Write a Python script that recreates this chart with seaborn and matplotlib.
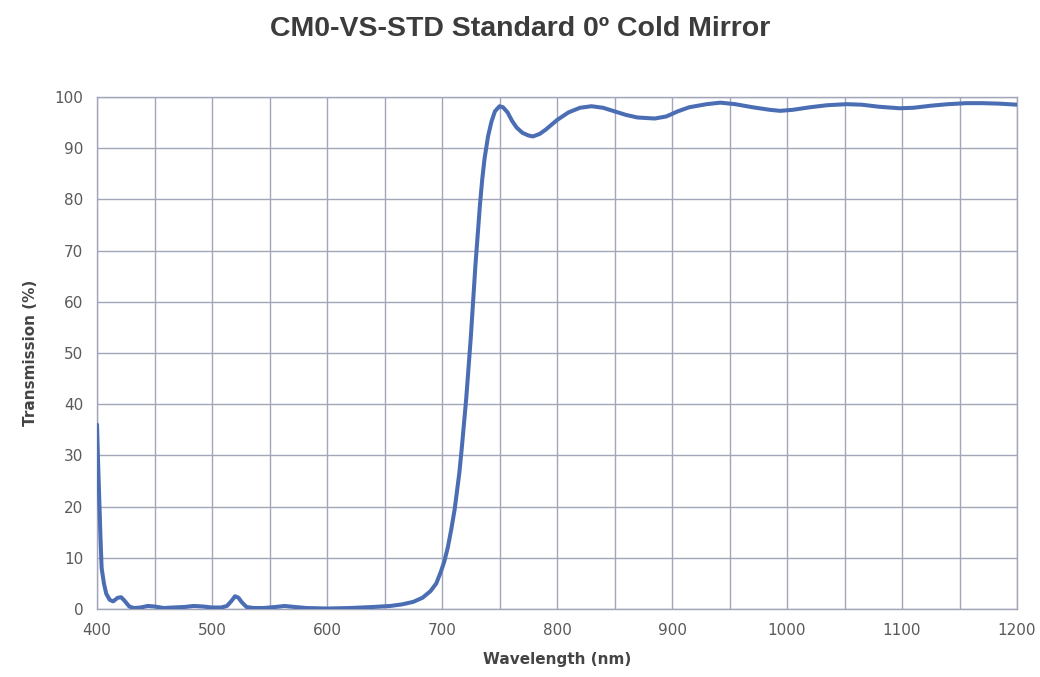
import numpy as np
import pandas as pd
import seaborn as sns
from matplotlib import pyplot as plt
from matplotlib.ticker import MultipleLocator

# Transmission curve
wavelength = [400, 401, 402, 403, 404, 406, 408, 411, 414, 418, 421, 424, 428, 432,
              438, 444, 450, 458, 466, 476, 484, 492, 500, 508, 513, 517, 520, 523,
              526, 530, 536, 545, 555, 563, 572, 582, 600, 620, 640, 655, 665, 675,
              683, 690, 695, 699, 702, 705, 708, 711, 713, 715, 717, 719, 721, 723,
              725, 727, 729, 731, 733, 735, 737, 740, 743, 746, 750, 753, 757, 761,
              765, 770, 775, 779, 785, 790, 800,
              810, 820, 830, 840, 850, 860, 870, 885, 895, 905, 915, 930, 942, 955,
              970, 985, 994, 1005, 1020, 1035, 1052, 1065, 1080, 1098, 1110, 1125,
              1140, 1156, 1170, 1185, 1200]
transmission = [36, 28, 21, 14, 8, 5, 3, 1.8, 1.5, 2.2, 2.3, 1.6, 0.5, 0.2,
                0.3, 0.6, 0.5, 0.2, 0.3, 0.4, 0.6, 0.5, 0.3, 0.3, 0.6, 1.6, 2.5, 2.2,
                1.3, 0.4, 0.2, 0.2, 0.4, 0.6, 0.4, 0.2, 0.1, 0.2, 0.4, 0.6, 0.9, 1.4,
                2.2, 3.5, 5, 7.3, 9.3, 12, 15.5, 19.5, 23, 26.5, 31, 36, 41, 47,
                53, 60, 67, 73, 79, 84, 88, 92.3, 95.2, 97.2, 98.2, 98.0, 97.0, 95.3,
                94.0, 93.0, 92.5, 92.3, 92.8, 93.6, 95.5,
                97.0, 97.9, 98.2, 97.9, 97.2, 96.5, 96.0, 95.8, 96.2, 97.2, 98.0, 98.6, 98.9, 98.6,
                98.0, 97.5, 97.3, 97.5, 98.0, 98.4, 98.6, 98.5, 98.1, 97.8, 97.9, 98.3,
                98.6, 98.8, 98.8, 98.7, 98.5]

x_ticks = [400, 500, 600, 700, 800, 900, 1000, 1100, 1200]
y_ticks = [0, 10, 20, 30, 40, 50, 60, 70, 80, 90, 100]

df = pd.DataFrame({'Wavelength': wavelength, 'Transmission': transmission})

sns.set_style('white')
plt.rcParams['font.family'] = ['DejaVu Sans']

fig = plt.figure(figsize=(10.4, 6.77), dpi=100)
ax = fig.add_axes([0.0933, 0.1004, 0.8846, 0.7563])

grid_col = '#a3a6b8'
sns.lineplot(data=df, x='Wavelength', y='Transmission', ax=ax, color='#4a6db3',
             linewidth=2.9, zorder=3)

ax.set_xlim(400, 1200)
ax.set_ylim(0, 100)
ax.set_xticks(x_ticks)
ax.set_yticks(y_ticks)
ax.xaxis.set_minor_locator(MultipleLocator(50))
ax.grid(True, which='both', color=grid_col, linewidth=1.0)
ax.tick_params(axis='both', which='major', direction='out', length=4, color=grid_col,
               labelsize=11, labelcolor='#5a5a5a', pad=6)
ax.tick_params(axis='x', which='minor', length=0)
for s in ax.spines.values():
    s.set_color(grid_col)
    s.set_linewidth(1.0)

ax.set_xlabel('Wavelength (nm)', fontsize=11, fontweight='bold', color='#444444', labelpad=10)
ax.set_ylabel('Transmission (%)', fontsize=11, fontweight='bold', color='#444444', labelpad=12)
fig.text(0.5, 0.957, 'CM0-VS-STD Standard 0º Cold Mirror', ha='center', va='center',
         fontsize=20.5, fontweight='bold', color='#3c3c3c', family='Liberation Sans')

fig.savefig('out.png', dpi=100)
